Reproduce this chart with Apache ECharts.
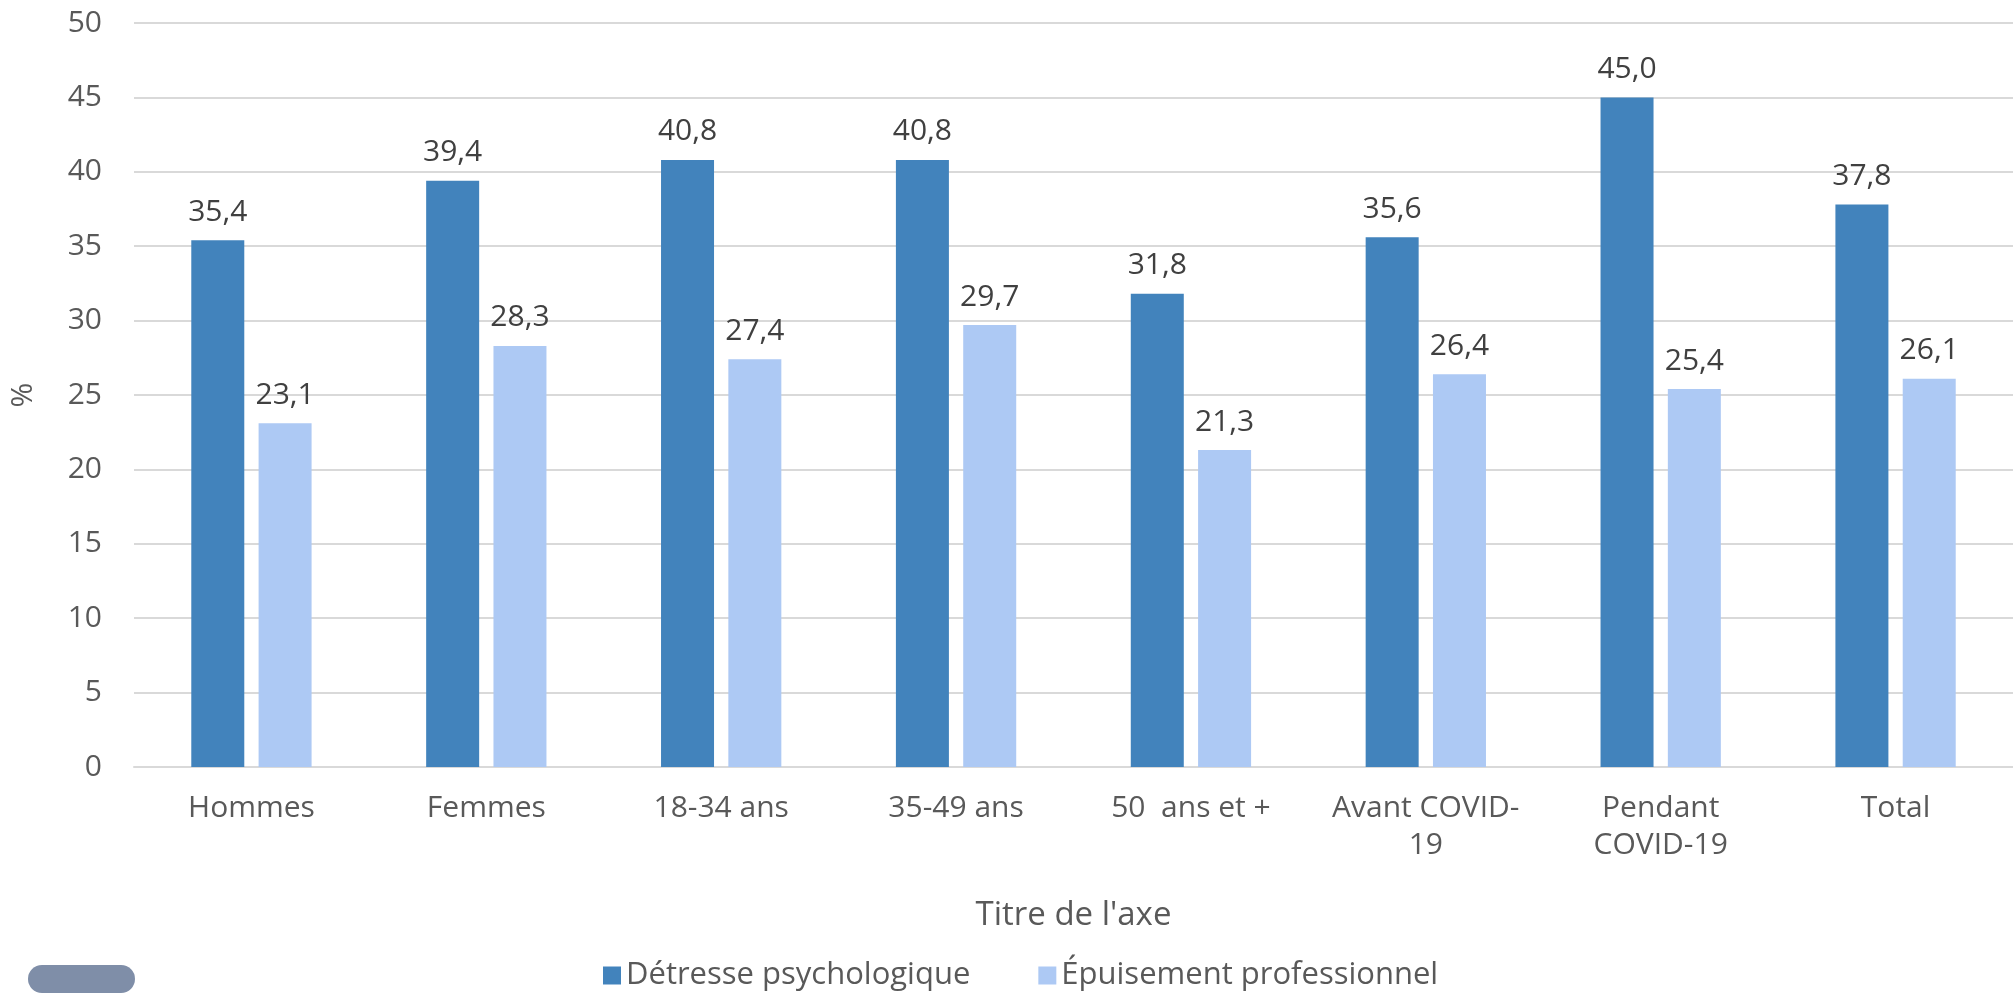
<!DOCTYPE html>
<html>
<head>
<meta charset="utf-8">
<script src="https://cdn.jsdelivr.net/npm/echarts@6/dist/echarts.min.js"></script>
<style>
  html, body { margin: 0; padding: 0; background: #fff; }
  #chart { width: 2013px; height: 994px; }
</style>
</head>
<body>
<div id="chart"></div>
<script>
// categories and values
const categories = ['Hommes', 'Femmes', '18-34 ans', '35-49 ans', '50  ans et +', 'Avant COVID-\n19', 'Pendant\nCOVID-19', 'Total']
const detresse = [35.4, 39.4, 40.8, 40.8, 31.8, 35.6, 45.0, 37.8]
const epuisement = [23.1, 28.3, 27.4, 29.7, 21.3, 26.4, 25.4, 26.1]
const seriesNames = ['Détresse psychologique', 'Épuisement professionnel']
const yTicks = { min: 0, max: 50, interval: 5 }

const font = '"Open Sans", sans-serif'
const fmt = p => p.value.toFixed(1).replace('.', ',')

const chart = echarts.init(document.getElementById('chart'))
chart.setOption({
  animation: false,
  textStyle: { fontFamily: font },
  color: ['#4283bc', '#adc9f4'],
  grid: { left: 131, right: 0, top: 23, bottom: 227, containLabel: false },
  legend: {
    left: 598,
    top: 955,
    itemWidth: 18,
    itemHeight: 18,
    itemGap: 68,
    icon: 'rect',
    textStyle: { fontSize: 31, color: '#595959', fontFamily: font },
    data: seriesNames
  },
  xAxis: {
    type: 'category',
    data: categories,
    name: "Titre de l'axe",
    nameLocation: 'middle',
    nameGap: 132,
    nameTextStyle: { fontSize: 33, color: '#595959' },
    axisTick: { show: false },
    axisLine: { lineStyle: { color: '#d9d9d9', width: 2 } },
    axisLabel: { fontSize: 30, color: '#595959', margin: 23, lineHeight: 37, interval: 0 }
  },
  yAxis: {
    type: 'value',
    min: yTicks.min,
    max: yTicks.max,
    interval: yTicks.interval,
    name: '%',
    nameLocation: 'middle',
    nameGap: 96,
    nameTextStyle: { fontSize: 30, color: '#595959' },
    axisLine: { show: false },
    axisTick: { show: false },
    axisLabel: { fontSize: 30, color: '#595959', margin: 32 },
    splitLine: { lineStyle: { color: '#d9d9d9', width: 2 } }
  },
  series: [
    {
      name: seriesNames[0],
      type: 'bar',
      data: detresse,
      barWidth: 53,
      barGap: '27%',
      label: { show: true, position: 'top', distance: 13, fontSize: 30, color: '#404040', formatter: fmt }
    },
    {
      name: seriesNames[1],
      type: 'bar',
      data: epuisement,
      barWidth: 53,
      label: { show: true, position: 'top', distance: 13, fontSize: 30, color: '#404040', formatter: fmt }
    }
  ],
  graphic: [
    {
      type: 'rect',
      left: 28,
      top: 965,
      shape: { width: 107, height: 28, r: 14 },
      style: { fill: '#7f8ea8' }
    }
  ]
})
</script>
</body>
</html>
